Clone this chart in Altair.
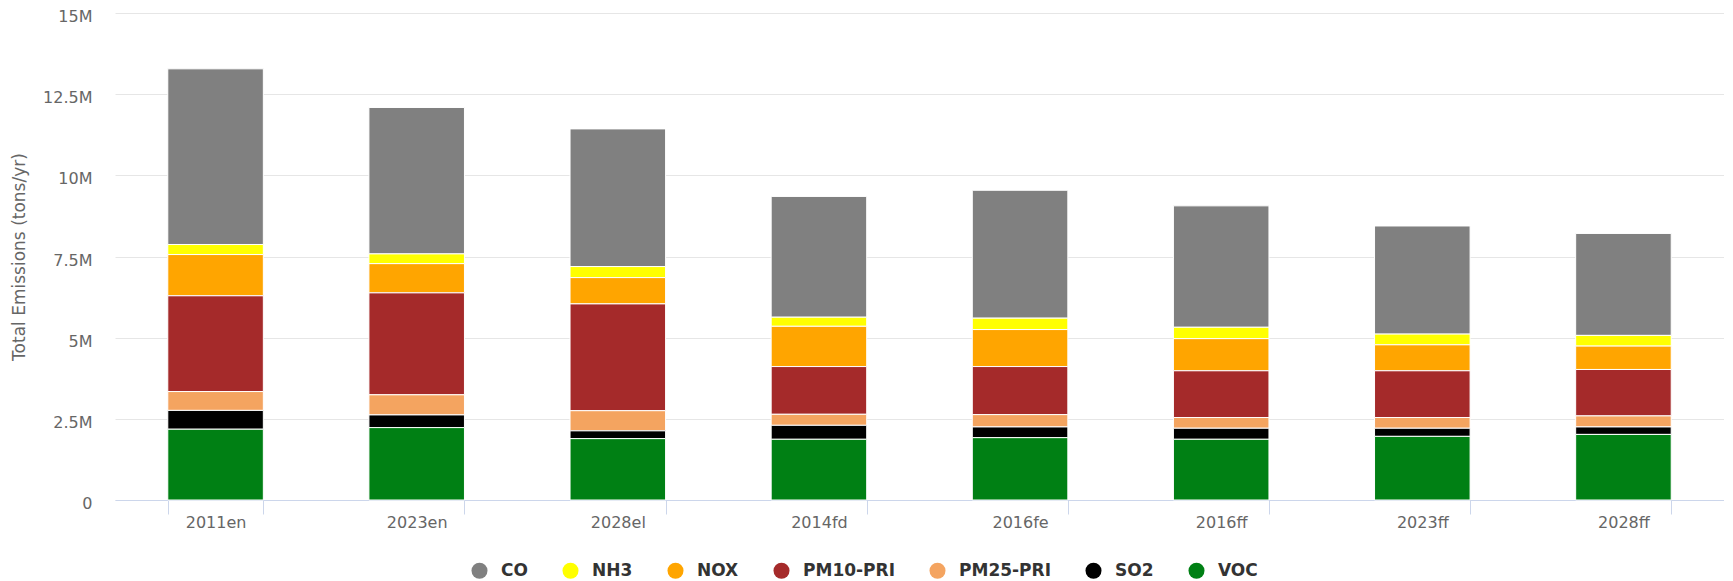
import altair as alt
import pandas as pd

categories = ["2011en", "2023en", "2028el", "2014fd", "2016fe", "2016ff", "2023ff", "2028ff"]
pollutants = ["CO", "NH3", "NOX", "PM10-PRI", "PM25-PRI", "SO2", "VOC"]
colors = ["#808080", "#FFFF00", "#FFA500", "#A52A2A", "#F4A460", "#000000", "#008014"]

# values in millions of tons/yr
VOC = [2.18, 2.23, 1.89, 1.87, 1.92, 1.87, 1.96, 2.02]
SO2 = [0.58, 0.39, 0.24, 0.43, 0.33, 0.34, 0.25, 0.23]
PM25 = [0.58, 0.62, 0.62, 0.34, 0.38, 0.33, 0.33, 0.34]
PM10 = [2.95, 3.14, 3.29, 1.47, 1.48, 1.44, 1.44, 1.43]
NOX = [1.27, 0.90, 0.81, 1.24, 1.14, 0.99, 0.80, 0.72]
NH3 = [0.31, 0.30, 0.34, 0.28, 0.35, 0.35, 0.33, 0.33]
CO = [5.41, 4.51, 4.24, 3.72, 3.94, 3.74, 3.33, 3.14]

series = {"CO": CO, "NH3": NH3, "NOX": NOX, "PM10-PRI": PM10,
          "PM25-PRI": PM25, "SO2": SO2, "VOC": VOC}
stack_rank = {"VOC": 0, "SO2": 1, "PM25-PRI": 2, "PM10-PRI": 3, "NOX": 4, "NH3": 5, "CO": 6}

rows = []
for p in pollutants:
    for c, v in zip(categories, series[p]):
        rows.append({"category": c, "pollutant": p, "value": v, "rank": stack_rank[p]})
df = pd.DataFrame(rows)

chart = alt.Chart(df).transform_calculate(
    tons="datum.value * 1000000"
).mark_bar(stroke="white", strokeWidth=1).encode(
    x=alt.X("category:N", sort=categories, title=None,
            scale=alt.Scale(paddingInner=0.525, paddingOuter=0.2625),
            axis=alt.Axis(labelAngle=0, tickBand="extent", tickSize=14, tickColor="#ccd6eb",
                          domainColor="#ccd6eb", labelColor="#666666", labelFontSize=16,
                          labelPadding=0, grid=False)),
    y=alt.Y("tons:Q", stack="zero", title="Total Emissions (tons/yr)",
            scale=alt.Scale(domain=[0, 15000000], nice=False),
            axis=alt.Axis(values=[0, 2500000, 5000000, 7500000, 10000000, 12500000, 15000000],
                          labelExpr="datum.value == 0 ? '0' : (datum.value / 1000000) + 'M'",
                          domain=False, ticks=False, gridColor="#e6e6e6", gridWidth=1,
                          labelColor="#666666", labelFontSize=16, labelPadding=23,
                          labelOffset=3.5,
                          titleColor="#666666", titleFontSize=17, titleFontWeight="normal",
                          titlePadding=14)),
    color=alt.Color("pollutant:N", scale=alt.Scale(domain=pollutants, range=colors),
                    legend=alt.Legend(title=None, orient="none", direction="horizontal",
                                      legendX=356, legendY=549, symbolType="circle",
                                      symbolSize=256, symbolStrokeWidth=0, labelFontSize=17,
                                      labelFontWeight="bold", labelColor="#333333",
                                      labelOffset=13, columnPadding=34)),
    order=alt.Order("rank:Q", sort="ascending"),
).properties(
    width=1609, height=487,
    autosize=alt.AutoSizeParams(type="none"),
    padding={"left": 107, "top": 5, "right": 0, "bottom": 80},
).configure(font="DejaVu Sans").configure_view(stroke=None)

chart.save("out.html", embed_options={"renderer": "svg", "actions": False})
